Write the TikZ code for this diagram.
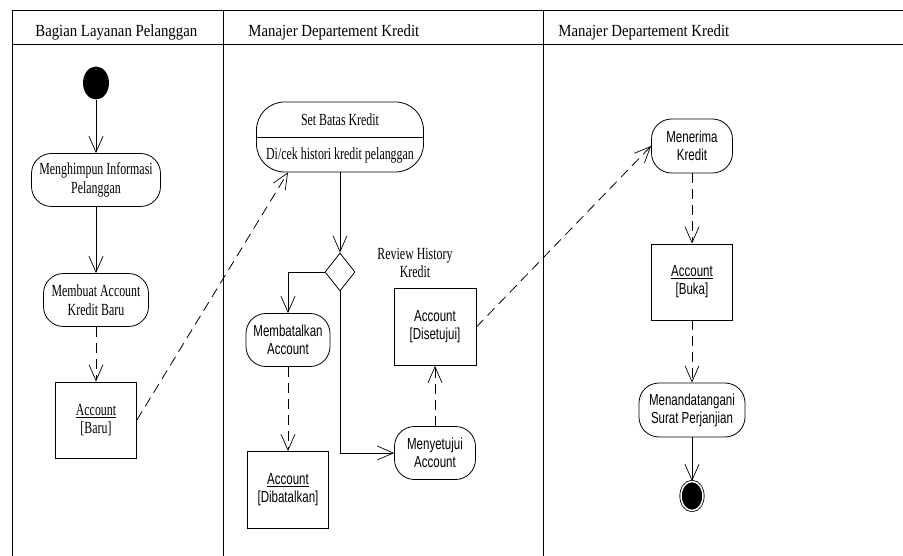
\documentclass[tikz,border=0pt]{standalone}
\usepackage{fontspec}
\setmainfont{Liberation Serif}
\newfontfamily\lanefont{Liberation Serif}[FakeStretch=0.87]
\newfontfamily\actfont{Liberation Serif}[FakeStretch=0.7]
\newfontfamily\actsans{Liberation Sans}[FakeStretch=0.72]
\usetikzlibrary{arrows.meta,shapes.geometric}

\begin{document}
\begin{tikzpicture}[x=1pt,y=-1pt,line width=0.8pt,
    flow/.style={-{Straight Barb[length=16pt,width=14pt,line width=0.7pt]}},
    objflow/.style={flow,dash pattern=on 10pt off 6pt},
    act/.style={draw,rounded corners=20pt,minimum height=53pt,inner sep=0pt,align=center,
      font=\actfont\fontsize{17}{18.5}\selectfont},
    actsf/.style={act,font=\actsans\fontsize{16}{18}\selectfont},
    obj/.style={draw,minimum width=81pt,minimum height=76pt,inner sep=0pt,align=center,
      font=\actfont\fontsize{17}{18.5}\selectfont},
    objsf/.style={obj,font=\actsans\fontsize{16}{18}\selectfont},
    lanetitle/.style={anchor=base west,inner sep=0pt,font=\lanefont\fontsize{17}{18}\selectfont}]
    \useasboundingbox (0,0) rectangle (903,556);
    % swimlanes
    \draw (12,556) -- (12,10) -- (903,10);
    \draw (12,44) -- (903,44);
    \draw (223,10) -- (223,556);
    \draw (543,10) -- (543,556);
    \node[lanetitle] (lane1) at (35,37) {Bagian Layanan Pelanggan};
    \node[lanetitle] (lane2) at (248,37) {Manajer Departement Kredit};
    \node[lanetitle] (lane3) at (558,37) {Manajer Departement Kredit};
    % lane 1
    \node[ellipse,fill=black,minimum width=26pt,minimum height=33pt,inner sep=0pt] (start) at (96,83) {};
    \node[act,minimum width=129pt] (himpun) at (96,180) {Menghimpun Informasi\\Pelanggan};
    \node[act,minimum width=105pt] (buatacc) at (96,300) {Membuat Account\\Kredit Baru};
    \node[obj] (accbaru) at (96,420) {\underline{Account}\\{}[Baru]};
    % lane 2
    \node[act,minimum width=167pt,minimum height=70pt,rounded corners=28pt] (setbatas) at (340,137) {};
    \node[font=\actfont\fontsize{17}{18.5}\selectfont] (setbatasname) at ([yshift=-18pt]setbatas.north) {Set Batas Kredit};
    \node[font=\actfont\fontsize{17}{18.5}\selectfont] (setbatasdo) at ([yshift=17pt]setbatas.south) {Di/cek histori kredit pelanggan};
    \draw (setbatas.west) -- (setbatas.east);
    \node[diamond,draw,minimum width=30pt,minimum height=38pt,inner sep=0pt] (cek) at (340,272) {};
    \node[align=center,font=\actfont\fontsize{17}{18.5}\selectfont] (review) at (415,263) {Review History\\Kredit};
    \node[actsf,minimum width=84pt] (batal) at (288,340) {Membatalkan\\Account};
    \node[objsf,minimum height=77pt] (accbatal) at (288,490) {\underline{Account}\\{}[Dibatalkan]};
    \node[actsf,minimum width=81pt] (setuju) at (435,453) {Menyetujui\\Account};
    \node[objsf,minimum width=82pt,minimum height=77pt] (accsetuju) at (435,327) {Account\\{}[Disetujui]};
    % lane 3
    \node[actsf,minimum width=81pt,minimum height=54pt] (terima) at (692,146) {Menerima\\Kredit};
    \node[objsf] (accbuka) at (692,282) {\underline{Account}\\{}[Buka]};
    \node[actsf,minimum width=106pt,minimum height=54pt] (tandatangan) at (692,410) {Menandatangani\\Surat Perjanjian};
    \node[ellipse,fill=black,draw,double=white,double distance=1.5pt,minimum width=22pt,minimum height=29pt,inner sep=0pt] (finish) at (692,496) {};
    % alur
    \draw[flow] (start) -- (himpun);
    \draw[flow] (himpun) -- (buatacc);
    \draw[objflow] (buatacc) -- (accbaru);
    \draw[objflow] (accbaru.east) -- (batal |- setbatas.south);
    \draw[flow] (setbatas) -- (cek);
    \draw[flow] (cek.west) -| (batal.north);
    \draw[flow] (cek.south) |- (setuju.west);
    \draw[objflow] (batal) -- (accbatal);
    \draw[objflow] (setuju) -- (accsetuju);
    \draw[objflow] (accsetuju.east) -- (terima.west);
    \draw[objflow] (terima) -- (accbuka);
    \draw[objflow] (accbuka) -- (tandatangan);
    \draw[flow] (tandatangan) -- (finish);
\end{tikzpicture}
\end{document}
